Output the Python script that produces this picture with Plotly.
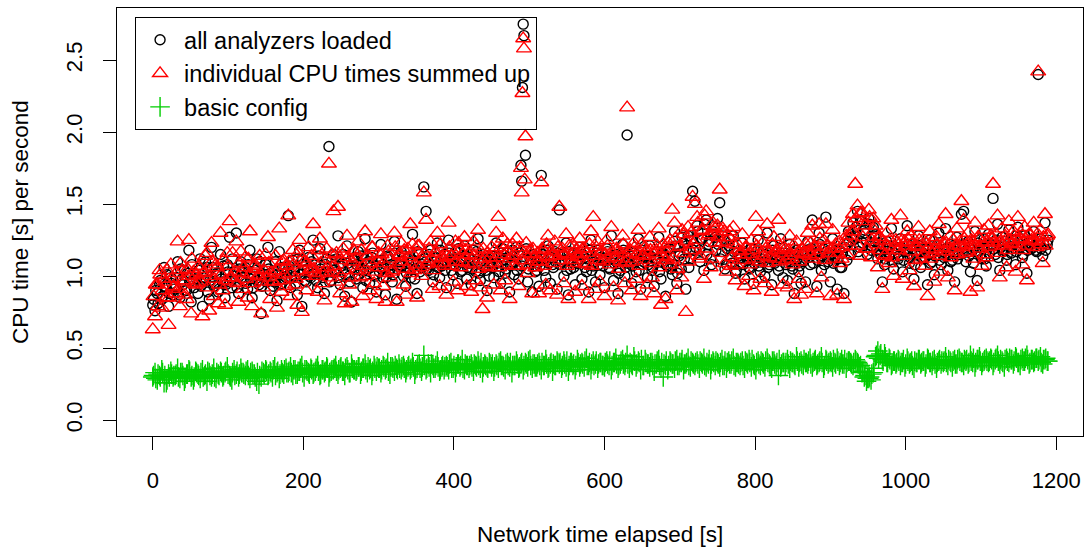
import plotly.graph_objects as go

# time grids (seconds elapsed): two interleaved sample sets, every 3 s
elapsed_a_s = list(range(0, 1190, 3))
elapsed_b_s = list(range(1, 1190, 3))

# CPU time per second, in hundredths of a second
all_analyzers_a_cs = [
    80, 76, 88, 95, 84, 106, 92, 79, 99, 87,
    93, 110, 85, 98, 104, 90, 118, 82, 96, 101,
    88, 112, 79, 97, 106, 84, 120, 93, 101, 89,
    115, 96, 85, 108, 127, 92, 103, 130, 88, 110,
    97, 106, 91, 118, 85, 100, 112, 94, 74, 99,
    108, 120, 90, 102, 96, 83, 117, 95, 105, 99,
    142, 92, 111, 100, 87, 118, 79, 104, 96, 113,
    99, 125, 108, 92, 119, 101, 88, 112, 190, 97,
    115, 103, 128, 94, 109, 86, 121, 100, 82, 111,
    98, 117, 105, 92, 126, 108, 95, 113, 101, 89,
    110, 122, 99, 87, 114, 105, 96, 124, 84, 108,
    117, 100, 93, 112, 105, 129, 98, 88, 115, 106,
    162, 145, 104, 118, 96, 110, 123, 99, 107, 115,
    92, 125, 108, 101, 117, 95, 112, 104, 121, 98,
    109, 94, 118, 103, 126, 97, 111, 106, 90, 100,
    114, 99, 123, 107, 95, 119, 102, 116, 89, 108,
    101, 120, 98, 177, 275, 184, 96, 112, 89, 107,
    104, 93, 170, 112, 99, 121, 95, 108, 117, 91,
    146, 110, 100, 123, 87, 105, 116, 94, 109, 120,
    98, 113, 103, 89, 125, 107, 96, 118, 101, 111,
    92, 119, 106, 128, 97, 112, 88, 104, 122, 100,
    198, 110, 95, 117, 103, 126, 91, 108, 114, 99,
    121, 104, 93, 112, 127, 98, 116, 86, 107, 119,
    101, 131, 95, 114, 105, 123, 91, 128, 112, 159,
    152, 135, 118, 126, 104, 139, 122, 112, 131, 127,
    140, 151, 117, 125, 108, 121, 113, 128, 102, 116,
    109, 123, 98, 114, 106, 119, 95, 111, 125, 103,
    117, 100, 130, 108, 94, 121, 112, 104, 126, 99,
    113, 97, 122, 107, 88, 118, 103, 95, 110, 96,
    124, 108, 139, 115, 93, 130, 104, 119, 141, 110,
    96, 126, 113, 91, 118, 106, 88, 122, 131, 115,
    137, 128, 145, 120, 138, 132, 125, 140, 118, 134,
    129, 112, 121, 96, 108, 124, 114, 133, 105, 119,
    112, 126, 103, 118, 135, 109, 122, 98, 115, 128,
    106, 119, 113, 94, 125, 110, 101, 121, 130, 108,
    117, 133, 104, 122, 111, 96, 127, 115, 143, 145,
    110, 124, 103, 118, 131, 97, 120, 112, 126, 107,
    129, 122, 154, 115, 136, 104, 127, 118, 111, 132,
    116, 125, 108, 134, 120, 113, 128, 102, 123, 119,
    131, 118, 240, 126, 114, 137, 122,
]

all_analyzers_b_cs = [
    84, 90, 81, 97, 86, 93, 101, 88, 95, 91,
    99, 87, 105, 94, 90, 102, 96, 108, 92, 98,
    104, 93, 99, 110, 89, 97, 106, 95, 102, 91,
    98, 107, 94, 103, 96, 112, 100, 92, 105, 99,
    103, 95, 108, 98, 92, 104, 97, 110, 93, 101,
    96, 105, 99, 93, 110, 101, 94, 106, 98, 103,
    107, 99, 104, 95, 112, 101, 108, 97, 105, 100,
    110, 102, 97, 114, 105, 99, 108, 103, 96, 111,
    104, 112, 99, 107, 115, 101, 109, 96, 106, 113,
    108, 101, 114, 104, 97, 110, 106, 116, 100, 107,
    103, 111, 106, 99, 113, 108, 101, 116, 105, 110,
    107, 114, 102, 109, 99, 111, 105, 117, 103, 108,
    112, 105, 115, 108, 101, 113, 106, 118, 109, 104,
    110, 116, 104, 112, 107, 119, 103, 111, 114, 106,
    113, 105, 110, 117, 102, 108, 115, 104, 112, 109,
    106, 114, 109, 103, 116, 111, 105, 113, 108, 118,
    110, 104, 116, 107, 112, 119, 105, 111, 115, 103,
    112, 107, 115, 104, 118, 109, 113, 106, 110, 116,
    108, 115, 111, 104, 117, 110, 106, 114, 109, 112,
    115, 106, 112, 118, 104, 110, 116, 108, 113, 107,
    111, 117, 105, 113, 109, 115, 102, 112, 118, 106,
    109, 114, 107, 116, 111, 104, 118, 110, 113, 108,
    114, 106, 112, 117, 103, 110, 115, 108, 119, 105,
    108, 121, 102, 116, 127, 112, 119, 106, 125, 118,
    120, 131, 110, 126, 136, 115, 124, 108, 129, 118,
    122, 112, 128, 105, 119, 126, 109, 117, 104, 114,
    113, 108, 116, 111, 105, 114, 109, 117, 107, 112,
    110, 115, 106, 113, 118, 109, 114, 107, 112, 116,
    108, 114, 110, 105, 116, 112, 107, 115, 111, 118,
    113, 119, 109, 116, 111, 122, 114, 108, 117, 112,
    115, 109, 118, 112, 106, 116, 120, 111, 124, 127,
    126, 134, 117, 139, 123, 130, 115, 136, 121, 128,
    118, 123, 115, 120, 112, 117, 121, 110, 116, 119,
    114, 120, 111, 117, 122, 113, 119, 108, 116, 121,
    117, 112, 119, 115, 109, 121, 114, 118, 111, 116,
    113, 119, 115, 110, 121, 117, 112, 120, 116, 122,
    118, 114, 121, 109, 117, 123, 115, 119, 112, 120,
    116, 122, 119, 125, 113, 120, 117, 124, 115, 121,
    119, 124, 117, 121, 126, 115, 122, 118, 125, 120,
    121, 117, 124, 119, 123, 118, 125,
]

summed_up_a_cs = [
    63, 72, 94, 104, 78, 98, 85, 66, 108, 92,
    88, 124, 79, 104, 96, 84, 125, 74, 103, 94,
    95, 105, 72, 103, 116, 76, 123, 86, 108, 81,
    130, 90, 80, 116, 138, 99, 96, 124, 82, 117,
    91, 113, 85, 131, 79, 107, 105, 100, 74, 92,
    115, 127, 84, 96, 103, 78, 133, 89, 111, 93,
    142, 86, 118, 94, 80, 125, 75, 110, 90, 120,
    105, 136, 102, 89, 126, 95, 83, 119, 178, 103,
    145, 96, 148, 88, 115, 81, 128, 94, 82, 118,
    104, 124, 99, 86, 131, 114, 90, 120, 95, 84,
    116, 129, 93, 82, 121, 99, 103, 130, 82, 115,
    123, 94, 87, 119, 136, 122, 104, 85, 121, 100,
    158, 139, 110, 124, 91, 116, 130, 93, 113, 109,
    87, 137, 114, 96, 124, 90, 118, 110, 127, 93,
    115, 89, 124, 97, 132, 92, 77, 112, 85, 106,
    120, 94, 130, 141, 90, 126, 97, 122, 84, 114,
    107, 126, 93, 175, 265, 197, 102, 118, 88, 113,
    110, 88, 165, 118, 94, 128, 90, 114, 124, 87,
    148, 116, 95, 129, 84, 111, 122, 89, 115, 126,
    93, 119, 108, 84, 131, 141, 91, 124, 96, 117,
    86, 125, 112, 134, 92, 118, 83, 110, 128, 95,
    217, 116, 90, 123, 98, 132, 86, 114, 120, 94,
    127, 99, 88, 118, 133, 80, 122, 84, 113, 125,
    146, 137, 90, 120, 99, 129, 75, 134, 118, 155,
    150, 141, 112, 132, 98, 145, 128, 106, 137, 133,
    135, 160, 123, 131, 103, 127, 107, 134, 97, 122,
    115, 129, 93, 120, 100, 125, 90, 141, 131, 98,
    123, 95, 136, 113, 89, 127, 118, 139, 120, 94,
    119, 92, 128, 112, 84, 124, 98, 87, 116, 91,
    130, 114, 135, 121, 88, 136, 99, 125, 136, 116,
    86, 132, 119, 87, 124, 112, 84, 128, 137, 121,
    143, 164, 149, 114, 144, 138, 119, 146, 113, 140,
    135, 106, 127, 91, 114, 130, 109, 139, 100, 125,
    118, 142, 98, 124, 131, 104, 128, 93, 121, 134,
    112, 125, 107, 86, 131, 116, 96, 127, 136, 103,
    123, 143, 99, 128, 117, 90, 133, 121, 152, 139,
    116, 130, 89, 124, 137, 92, 126, 107, 132, 113,
    135, 128, 164, 121, 142, 99, 133, 124, 106, 138,
    122, 131, 103, 141, 126, 108, 134, 97, 129, 125,
    137, 124, 242, 132, 109, 143, 128,
]

summed_up_b_cs = [
    86, 94, 79, 101, 90, 96, 104, 85, 98, 93,
    102, 91, 109, 97, 87, 105, 100, 112, 95, 101,
    107, 96, 102, 114, 92, 100, 110, 98, 106, 94,
    101, 111, 97, 107, 99, 116, 103, 95, 109, 102,
    106, 98, 112, 101, 95, 108, 100, 114, 96, 104,
    99, 109, 102, 96, 114, 104, 97, 110, 101, 107,
    110, 102, 108, 98, 116, 104, 112, 100, 109, 103,
    114, 105, 100, 118, 109, 102, 112, 106, 99, 115,
    107, 116, 102, 111, 119, 104, 113, 99, 110, 117,
    112, 104, 118, 107, 100, 114, 109, 120, 103, 111,
    106, 115, 109, 102, 117, 112, 104, 120, 108, 114,
    110, 118, 105, 113, 102, 115, 108, 121, 106, 112,
    116, 108, 119, 112, 104, 117, 109, 122, 113, 107,
    114, 120, 107, 116, 110, 123, 106, 115, 118, 109,
    117, 108, 114, 121, 105, 112, 119, 107, 116, 113,
    109, 118, 113, 106, 120, 115, 108, 117, 112, 122,
    114, 107, 120, 111, 116, 123, 108, 115, 119, 106,
    116, 110, 119, 107, 122, 113, 117, 109, 114, 120,
    111, 119, 115, 107, 121, 114, 109, 118, 113, 116,
    119, 109, 116, 122, 107, 114, 120, 111, 117, 110,
    115, 121, 108, 117, 113, 119, 105, 116, 122, 109,
    112, 118, 110, 120, 115, 107, 122, 114, 117, 111,
    118, 109, 116, 121, 106, 114, 119, 111, 123, 108,
    112, 126, 105, 121, 132, 116, 124, 110, 130, 122,
    125, 137, 114, 131, 142, 119, 129, 112, 134, 123,
    127, 116, 133, 109, 124, 131, 113, 122, 108, 118,
    117, 111, 120, 115, 108, 118, 112, 121, 110, 116,
    114, 119, 109, 117, 122, 112, 118, 110, 116, 120,
    111, 118, 114, 108, 120, 116, 110, 119, 115, 122,
    117, 123, 112, 120, 115, 126, 118, 111, 121, 116,
    119, 112, 122, 116, 109, 120, 124, 115, 128, 131,
    131, 140, 121, 144, 127, 135, 119, 141, 125, 132,
    122, 127, 118, 124, 115, 121, 125, 113, 120, 123,
    118, 124, 114, 121, 126, 117, 123, 111, 120, 125,
    121, 115, 123, 119, 112, 125, 118, 122, 114, 120,
    117, 123, 119, 113, 125, 121, 115, 124, 120, 126,
    122, 117, 125, 112, 121, 127, 119, 123, 115, 124,
    120, 126, 123, 129, 116, 124, 121, 128, 118, 125,
    123, 128, 120, 125, 130, 118, 126, 121, 129, 124,
    125, 120, 128, 122, 127, 121, 129,
]

basic_config_a_cs = [
    30, 33, 28, 31, 35, 26, 26, 32, 34, 30,
    31, 36, 29, 33, 27, 32, 35, 30, 28, 34,
    32, 29, 35, 31, 27, 33, 30, 36, 29, 32,
    34, 30, 33, 37, 31, 28, 35, 32, 30, 36,
    33, 31, 35, 29, 34, 32, 27, 25, 30, 33,
    35, 31, 34, 30, 37, 33, 29, 35, 32, 36,
    33, 37, 31, 35, 32, 34, 38, 30, 35, 33,
    36, 32, 34, 38, 31, 35, 33, 37, 30, 34,
    35, 38, 32, 36, 34, 31, 37, 33, 39, 35,
    34, 37, 32, 36, 39, 33, 35, 31, 38, 34,
    36, 33, 38, 35, 40, 32, 37, 34, 36, 39,
    35, 38, 33, 37, 35, 40, 32, 36, 39, 34,
    45, 35, 39, 33, 38, 36, 41, 34, 37, 35,
    38, 35, 40, 36, 33, 39, 37, 42, 35, 38,
    36, 39, 34, 38, 41, 36, 33, 39, 37, 40,
    37, 34, 39, 36, 41, 38, 35, 40, 37, 33,
    38, 41, 36, 39, 35, 40, 37, 42, 36, 39,
    37, 40, 35, 38, 42, 36, 39, 34, 38, 41,
    39, 36, 41, 37, 34, 40, 38, 35, 42, 37,
    40, 37, 43, 38, 35, 41, 39, 36, 40, 38,
    37, 41, 38, 35, 40, 43, 36, 39, 42, 38,
    45, 36, 39, 44, 37, 41, 35, 38, 42, 39,
    37, 40, 34, 39, 42, 36, 30, 38, 35, 41,
    39, 36, 42, 38, 40, 35, 39, 43, 37, 40,
    38, 41, 36, 40, 43, 37, 39, 35, 41, 38,
    40, 37, 42, 38, 36, 41, 39, 43, 37, 40,
    38, 41, 36, 40, 42, 37, 39, 35, 41, 38,
    40, 37, 43, 39, 36, 41, 38, 31, 37, 40,
    38, 42, 36, 40, 39, 44, 37, 41, 38, 40,
    39, 43, 37, 41, 38, 40, 44, 36, 42, 39,
    41, 37, 40, 43, 38, 42, 39, 36, 41, 40,
    38, 42, 40, 37, 33, 30, 27, 29, 28, 33,
    44, 48, 45, 42, 46, 40, 43, 38, 41, 39,
    42, 38, 40, 37, 43, 39, 41, 36, 40, 42,
    39, 41, 37, 43, 40, 38, 42, 36, 41, 39,
    40, 44, 38, 41, 37, 42, 39, 43, 40, 38,
    41, 39, 45, 40, 37, 42, 44, 38, 41, 43,
    40, 43, 38, 42, 45, 39, 41, 37, 43, 40,
    42, 39, 44, 40, 38, 43, 41, 45, 39, 42,
    40, 43, 41, 44, 39, 42, 41,
]

basic_config_b_cs = [
    31, 29, 32, 30, 33, 31, 28, 30, 32, 31,
    32, 30, 33, 31, 29, 32, 34, 31, 30, 33,
    31, 33, 30, 32, 34, 31, 32, 30, 33, 31,
    33, 31, 34, 32, 30, 33, 31, 34, 32, 33,
    32, 34, 31, 33, 32, 30, 33, 31, 34, 32,
    34, 32, 33, 35, 31, 34, 32, 33, 35, 33,
    34, 33, 35, 32, 34, 36, 33, 35, 34, 32,
    35, 33, 36, 34, 32, 35, 34, 36, 33, 35,
    36, 34, 35, 37, 34, 36, 35, 33, 36, 35,
    35, 37, 34, 36, 35, 37, 36, 34, 36, 37,
    36, 35, 37, 36, 34, 37, 36, 38, 35, 36,
    37, 36, 35, 38, 36, 37, 35, 38, 36, 37,
    38, 36, 37, 39, 36, 38, 37, 35, 38, 37,
    37, 39, 36, 38, 37, 39, 38, 36, 39, 38,
    38, 37, 39, 37, 38, 40, 37, 38, 36, 39,
    39, 37, 38, 40, 38, 37, 39, 38, 40, 38,
    38, 39, 37, 40, 38, 39, 41, 38, 39, 37,
    39, 38, 40, 38, 39, 37, 40, 39, 38, 40,
    40, 38, 39, 41, 38, 40, 39, 38, 40, 39,
    39, 41, 38, 40, 39, 38, 41, 39, 40, 38,
    40, 39, 41, 38, 40, 39, 38, 41, 39, 40,
    39, 40, 38, 41, 39, 40, 42, 38, 40, 39,
    40, 38, 39, 41, 38, 40, 39, 41, 38, 40,
    39, 41, 38, 40, 42, 39, 40, 38, 41, 39,
    40, 39, 41, 39, 38, 40, 42, 39, 40, 41,
    39, 40, 38, 41, 40, 39, 41, 38, 40, 39,
    40, 38, 41, 39, 40, 42, 38, 40, 39, 41,
    39, 41, 40, 38, 41, 39, 40, 42, 39, 40,
    40, 39, 41, 40, 38, 41, 40, 39, 42, 40,
    41, 39, 40, 42, 39, 41, 40, 38, 41, 40,
    40, 42, 39, 41, 40, 39, 42, 40, 41, 39,
    40, 41, 39, 38, 34, 31, 29, 30, 32, 36,
    45, 43, 46, 41, 44, 40, 42, 39, 41, 40,
    41, 40, 42, 39, 41, 40, 38, 41, 40, 42,
    40, 41, 39, 42, 40, 41, 39, 40, 42, 41,
    41, 40, 42, 40, 41, 39, 42, 41, 40, 42,
    42, 40, 41, 43, 40, 42, 41, 40, 42, 41,
    41, 42, 40, 43, 41, 42, 40, 42, 41, 43,
    42, 41, 43, 40, 42, 41, 43, 42, 40, 42,
    41, 43, 42, 40, 42, 43, 41,
]

# extra samples in the burst around 490 s
burst_s_all = [490, 491, 493]
burst_all_cs = [166, 231, 267]
burst_s_sum = [490, 491, 493, 494]
burst_sum_cs = [158, 227, 258, 167]

x_ticks = [0, 200, 400, 600, 800, 1000, 1200]
y_ticks = [0.0, 0.5, 1.0, 1.5, 2.0, 2.5]
y_tick_labels = ["0.0", "0.5", "1.0", "1.5", "2.0", "2.5"]

FONT = "Liberation Sans, Arial, Helvetica, sans-serif"

x_all = elapsed_a_s + elapsed_b_s + burst_s_all
y_all = [v / 100 for v in all_analyzers_a_cs + all_analyzers_b_cs + burst_all_cs]
x_sum = elapsed_a_s + elapsed_b_s + burst_s_sum
y_sum = [v / 100 for v in summed_up_a_cs + summed_up_b_cs + burst_sum_cs]
x_basic = elapsed_a_s + elapsed_b_s
y_basic = [v / 100 for v in basic_config_a_cs + basic_config_b_cs]

fig = go.Figure()
fig.add_trace(go.Scatter(
    x=x_all, y=y_all, mode="markers", name="all analyzers loaded",
    marker=dict(symbol="circle-open", size=10, color="black",
                line=dict(width=1.4, color="black")),
))
fig.add_trace(go.Scatter(
    x=x_sum, y=y_sum, mode="markers", name="individual CPU times summed up",
    marker=dict(symbol="triangle-up-open", size=13, color="#FF0000",
                line=dict(width=1.4, color="#FF0000")),
))
fig.add_trace(go.Scatter(
    x=x_basic, y=y_basic, mode="markers", name="basic config",
    marker=dict(symbol="cross-thin-open", size=14, color="#00CD00",
                line=dict(width=1.4, color="#00CD00")),
))

axis_common = dict(
    showline=True, mirror=True, linecolor="black", linewidth=1,
    ticks="outside", ticklen=13, tickcolor="black", tickwidth=1,
    showgrid=False, zeroline=False,
    tickfont=dict(family=FONT, size=22, color="black"),
)

fig.update_layout(
    width=1085, height=550,
    margin=dict(l=117, r=2, t=8, b=114),
    paper_bgcolor="white", plot_bgcolor="white",
    font=dict(family=FONT, size=22, color="black"),
    xaxis=dict(range=[-47.5, 1235.5], tickvals=x_ticks, ticklabelstandoff=12,
               **axis_common),
    yaxis=dict(range=[-0.11, 2.862], tickvals=y_ticks, ticktext=y_tick_labels,
               tickangle=-90, ticklabelstandoff=12, **axis_common),
    showlegend=True,
    legend=dict(x=0.0187, y=0.979, xanchor="left", yanchor="top",
                bgcolor="rgba(0,0,0,0)", bordercolor="black", borderwidth=1,
                font=dict(family=FONT, size=23.5, color="black"),
                itemsizing="trace", itemwidth=38, traceorder="normal"),
    annotations=[
        dict(text="Network time elapsed [s]", xref="paper", yref="paper",
             x=0.5, y=0, yshift=-98, xanchor="center", yanchor="middle",
             showarrow=False, font=dict(family=FONT, size=22.5, color="black")),
        dict(text="CPU time [s] per second", xref="paper", yref="paper",
             x=0, y=0.5, xshift=-97, textangle=-90, xanchor="center",
             yanchor="middle", showarrow=False,
             font=dict(family=FONT, size=22.5, color="black")),
    ],
)

fig.write_html("out.html")
